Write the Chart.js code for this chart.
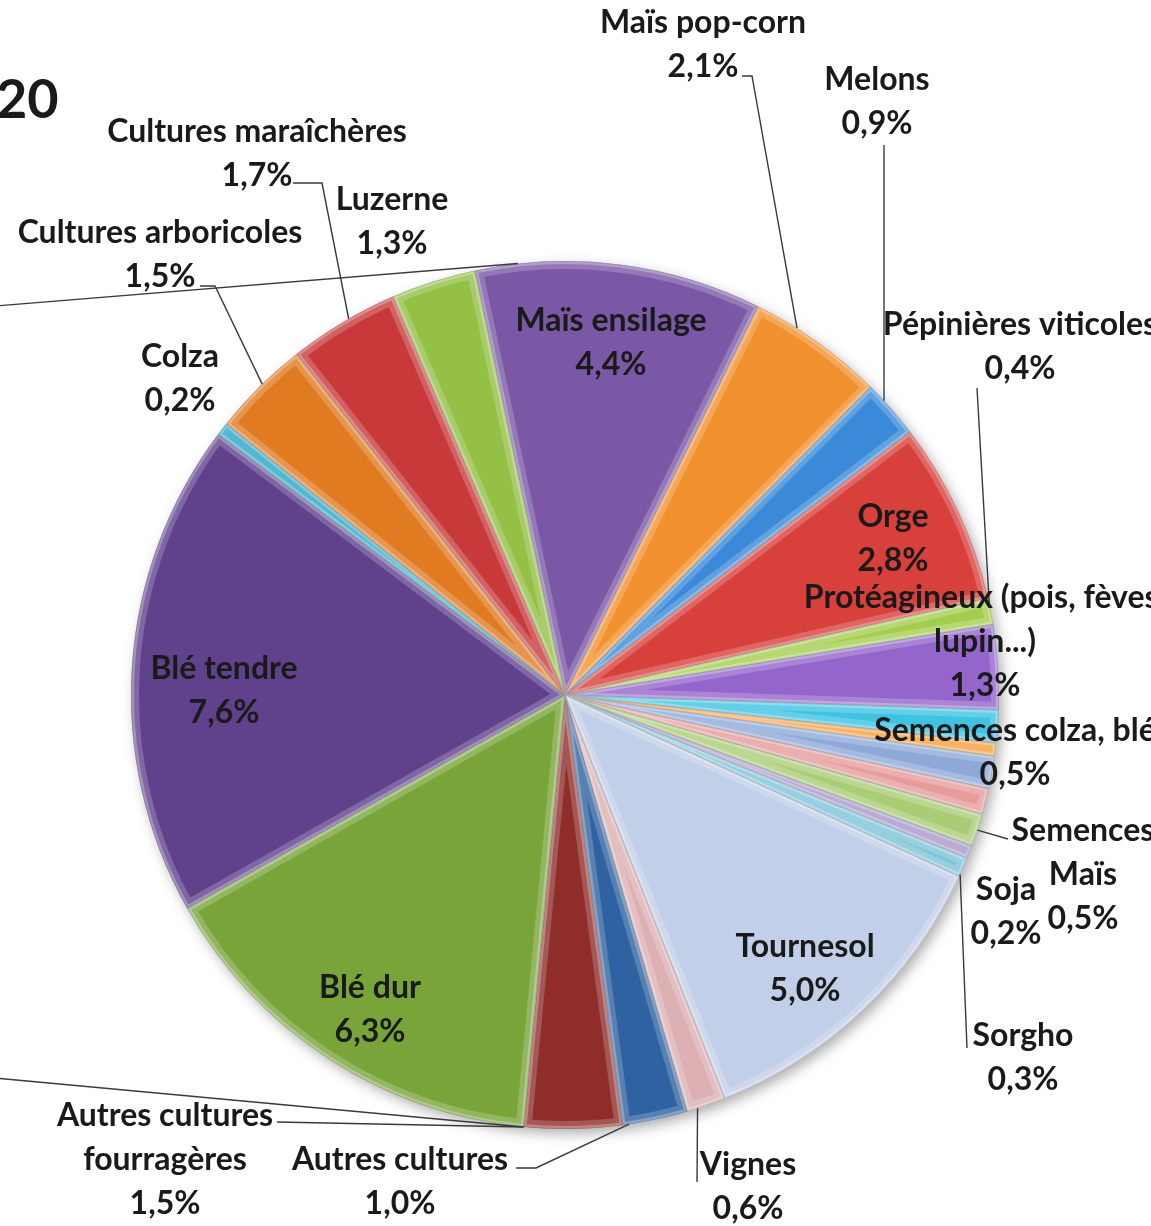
<!DOCTYPE html>
<html>
<head>
<meta charset="utf-8">
<script src="https://cdn.jsdelivr.net/npm/chart.js@4.4.0/dist/chart.umd.min.js"></script>
<style>
  html, body { margin: 0; padding: 0; background: #fff; }
  canvas { display: block; }
</style>
</head>
<body>
<canvas id="pie" width="1151" height="1226"></canvas>
<script>
// slices, clockwise from the top (Maïs ensilage)
// "" = slice whose label lies outside the picture
const categories = [
  "Maïs ensilage", "Maïs pop-corn", "Melons", "Orge", "Pépinières viticoles",
  "Protéagineux (pois, fèves,\nlupin...)", "", "", "Semences colza, blé", "",
  "Semences\nMaïs", "Soja", "Sorgho", "Tournesol", "Vignes",
  "Autres cultures", "Autres cultures\nfourragères", "Blé dur", "Blé tendre", "Colza",
  "Cultures arboricoles", "Cultures maraîchères", "Luzerne"
];
const shares = [
  4.4, 2.1, 0.9, 2.8, 0.4,
  1.3, 0.5, 0.2, 0.5, 0.4,
  0.5, 0.2, 0.3, 5.0, 0.6,
  1.0, 1.5, 6.3, 7.6, 0.2,
  1.5, 1.7, 1.3
];
const sliceColors = [
  "#7b58a6", "#f2922f", "#3b8ad9", "#d8403c", "#a4cd4f",
  "#9466cc", "#3ec3e3", "#f4a040", "#8ea9d8", "#e59c9b",
  "#a9cc75", "#a797cc", "#7cc4d8", "#c2cfe8", "#ddb0b3",
  "#2f62a0", "#8f2d2b", "#78a43a", "#60428c", "#28a6c6",
  "#e07b22", "#c83a3a", "#94c045"
];

// label placement (centre of first line) and leader lines
const labelSpots = [
  { i: 0, x: 611, y: 321 },
  { i: 1, x: 703, y: 23, leader: [[742, 76], [752, 76]], frac: 0.32 },
  { i: 2, x: 877, y: 80, leader: [[884, 145]], frac: 0.32 },
  { i: 3, x: 893, y: 517 },
  { i: 4, x: 1020, y: 325, leader: [[977, 388]], frac: 0.2 },
  { i: 5, x: 985, y: 598 },
  { i: 8, x: 1015, y: 731 },
  { i: 10, x: 1083, y: 831, leader: [[1008, 839]], frac: 0.5 },
  { i: 11, x: 1006, y: 890 },
  { i: 12, x: 1023, y: 1036, leader: [[967, 1048]], frac: 0.9 },
  { i: 13, x: 805, y: 947 },
  { i: 14, x: 748, y: 1165, leader: [[697, 1182]], frac: 0.73 },
  { i: 15, x: 400, y: 1160, leader: [[516, 1168], [536, 1168]], frac: 0.9 },
  { i: 16, x: 165, y: 1116, leader: [[277, 1122]], frac: 1.0 },
  { i: 17, x: 370, y: 988 },
  { i: 18, x: 224, y: 669 },
  { i: 19, x: 180, y: 357 },
  { i: 20, x: 160, y: 233, leader: [[200, 286], [215, 286]], frac: 0.54 },
  { i: 21, x: 257, y: 132, leader: [[293, 183], [322, 183]], frac: 0.56 },
  { i: 22, x: 392, y: 200 }
];
// leader lines whose labels are cut off on the left
const orphanLeaders = [
  { i: 0, frac: 0.15, from: [-5, 306] },
  { i: 16, frac: 1.0, from: [-5, 1078] }
];

const FONT = "bold 32px Lato, 'Open Sans', sans-serif";
const LINE_H = 44;

function pct(v) {
  return v.toFixed(1).replace(".", ",") + "%";
}

function arcPoint(arc, frac) {
  const a = arc.startAngle + (arc.endAngle - arc.startAngle) * frac;
  return [arc.x + arc.outerRadius * Math.cos(a), arc.y + arc.outerRadius * Math.sin(a)];
}

const bevel = {
  id: "bevel",
  beforeDatasetsDraw(chart) {
    // soft shadow under the pie
    const ctx = chart.ctx;
    const a = chart.getDatasetMeta(0).data[0];
    ctx.save();
    ctx.shadowColor = "rgba(0,0,0,0.35)";
    ctx.shadowBlur = 14;
    ctx.shadowOffsetX = 4;
    ctx.shadowOffsetY = 5;
    ctx.fillStyle = "#bbb";
    ctx.beginPath();
    ctx.arc(a.x, a.y, a.outerRadius - 1, 0, Math.PI * 2);
    ctx.fill();
    ctx.restore();
  },
  afterDatasetsDraw(chart) {
    const ctx = chart.ctx;
    chart.getDatasetMeta(0).data.forEach(arc => {
      ctx.save();
      ctx.beginPath();
      ctx.moveTo(arc.x, arc.y);
      ctx.arc(arc.x, arc.y, arc.outerRadius, arc.startAngle, arc.endAngle);
      ctx.closePath();
      ctx.clip();
      ctx.lineJoin = "round";
      ctx.strokeStyle = "rgba(255,255,255,0.2)";
      ctx.lineWidth = 16;
      ctx.stroke();
      ctx.strokeStyle = "rgba(255,255,255,0.28)";
      ctx.lineWidth = 6;
      ctx.stroke();
      ctx.strokeStyle = "rgba(60,60,60,0.22)";
      ctx.lineWidth = 1.5;
      ctx.stroke();
      ctx.restore();
    });
  }
};

const labels = {
  id: "labels",
  afterDraw(chart) {
    const ctx = chart.ctx;
    const arcs = chart.getDatasetMeta(0).data;
    ctx.save();
    ctx.strokeStyle = "#3a3a3a";
    ctx.lineWidth = 1.4;
    orphanLeaders.forEach(o => {
      const p = arcPoint(arcs[o.i], o.frac);
      ctx.beginPath();
      ctx.moveTo(o.from[0], o.from[1]);
      ctx.lineTo(p[0], p[1]);
      ctx.stroke();
    });
    labelSpots.forEach(s => {
      if (!s.leader) return;
      const p = arcPoint(arcs[s.i], s.frac);
      ctx.beginPath();
      ctx.moveTo(s.leader[0][0], s.leader[0][1]);
      s.leader.slice(1).forEach(q => ctx.lineTo(q[0], q[1]));
      ctx.lineTo(p[0], p[1]);
      ctx.stroke();
    });
    ctx.font = FONT;
    ctx.fillStyle = "#1a1a1a";
    ctx.textAlign = "center";
    ctx.textBaseline = "middle";
    labelSpots.forEach(s => {
      const lines = categories[s.i].split("\n").concat(pct(shares[s.i]));
      lines.forEach((t, k) => ctx.fillText(t, s.x, s.y + k * LINE_H));
    });
    // title, cut by the left edge of the picture
    ctx.font = "bold 54px Lato, 'Open Sans', sans-serif";
    ctx.textAlign = "left";
    ctx.textBaseline = "alphabetic";
    ctx.fillText("20", -4, 118);
    ctx.restore();
  }
};

new Chart(document.getElementById("pie"), {
  type: "pie",
  data: {
    labels: categories,
    datasets: [{
      data: shares,
      backgroundColor: sliceColors,
      borderWidth: 0,
      hoverOffset: 0
    }]
  },
  options: {
    responsive: false,
    animation: false,
    rotation: -12,
    layout: { padding: { left: 130, right: 151, top: 261, bottom: 97 } },
    plugins: {
      legend: { display: false },
      tooltip: { enabled: false }
    }
  },
  plugins: [bevel, labels]
});
</script>
</body>
</html>
